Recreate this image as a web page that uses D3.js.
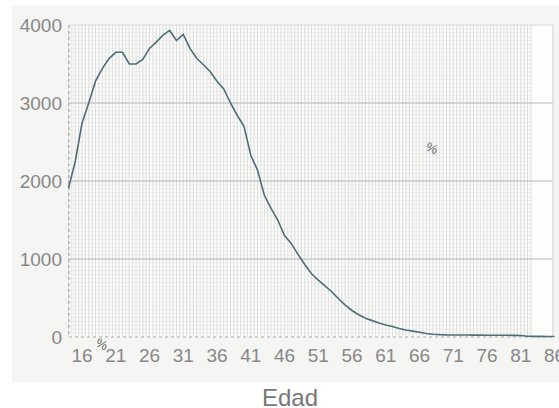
<!DOCTYPE html>
<html>
<head>
<meta charset="utf-8">
<script src="https://cdn.jsdelivr.net/npm/d3@7"></script>
<style>
  body { margin: 0; background: #fff; }
  svg { display: block; font-family: "Liberation Sans", Arial, sans-serif; }
</style>
</head>
<body>
<script>
// ages shown on the x axis and the count for each age
var ages = [14, 15, 16, 17, 18, 19, 20, 21, 22, 23, 24, 25, 26, 27, 28, 29, 30,
            31, 32, 33, 34, 35, 36, 37, 38, 39, 40, 41, 42, 43, 44, 45, 46, 47,
            48, 49, 50, 51, 52, 53, 54, 55, 56, 57, 58, 59, 60, 61, 62, 63, 64,
            65, 66, 67, 68, 69, 70, 71, 72, 73, 74, 75, 76, 77, 78, 79, 80, 81,
            82, 83, 84, 85, 86];
var counts = [1910, 2250, 2740, 3000, 3280, 3440, 3570, 3650, 3650, 3500, 3500, 3560,
              3700, 3780, 3870, 3930, 3800, 3880, 3700, 3570, 3490, 3400, 3280, 3180,
              3000, 2840, 2700, 2330, 2140, 1820, 1650, 1500, 1300, 1200, 1060, 930,
              810, 730, 655, 580, 490, 410, 340, 285, 240, 210, 180, 155, 135, 110,
              90, 75, 60, 45, 35, 30, 27, 26, 25, 25, 24, 24, 23, 23, 22, 22, 21, 20,
              9, 8, 8, 7, 7];
var xTicks = [16, 21, 26, 31, 36, 41, 46, 51, 56, 61, 66, 71, 76, 81, 86];
var yTicks = [0, 1000, 2000, 3000, 4000];

var width = 559, height = 408;
var svg = d3.select("body").append("svg")
            .attr("width", width)
            .attr("height", height);

// grey panel behind the chart
svg.append("rect")
   .attr("x", 12).attr("y", 5)
   .attr("width", width - 12).attr("height", 377)
   .attr("fill", "#f5f5f3");

var pad = {left: 69, right: 553, gridRight: 531, top: 25, bottom: 337};

var xScale = d3.scaleLinear().domain([14, 86]).range([68.5, 554.5]);
var yScale = d3.scaleLinear().domain([0, 4000]).range([pad.bottom, pad.top]);

// plot background
svg.append("rect")
   .attr("x", pad.left).attr("y", pad.top)
   .attr("width", pad.right - pad.left).attr("height", pad.bottom - pad.top)
   .attr("fill", "#fdfdfc");

// fine grid
var grid = svg.append("g").attr("class", "grid");
var vMinor = d3.range(14, 82.6, 0.5);
grid.selectAll(".vminor")
    .data(vMinor).enter()
    .append("line")
    .attr("x1", d => xScale(d)).attr("x2", d => xScale(d))
    .attr("y1", pad.top).attr("y2", pad.bottom)
    .attr("stroke", "#d4d4d4")
    .attr("stroke-width", 0.8);
var hMinor = d3.range(50, 4000, 50);
grid.selectAll(".hminor")
    .data(hMinor).enter()
    .append("line")
    .attr("x1", pad.left).attr("x2", pad.gridRight)
    .attr("y1", d => yScale(d)).attr("y2", d => yScale(d))
    .attr("stroke", "#e2e2e2")
    .attr("stroke-width", 0.6);

// main horizontal lines
grid.selectAll(".hmajor")
    .data([1000, 2000, 3000, 4000]).enter()
    .append("line")
    .attr("x1", pad.left).attr("x2", pad.right)
    .attr("y1", d => yScale(d)).attr("y2", d => yScale(d))
    .attr("stroke", d => d == 4000 ? "#d8d8d8" : "#b8b8b8")
    .attr("stroke-width", 1);

// right border
svg.append("line")
   .attr("x1", pad.right).attr("x2", pad.right)
   .attr("y1", pad.top).attr("y2", pad.bottom)
   .attr("stroke", "#cfcfcf");

// dashed axes
svg.append("line")
   .attr("x1", pad.left).attr("x2", pad.left)
   .attr("y1", pad.top).attr("y2", pad.bottom)
   .attr("stroke", "#999")
   .attr("stroke-dasharray", "3,3");
svg.append("line")
   .attr("x1", pad.left).attr("x2", pad.right)
   .attr("y1", pad.bottom).attr("y2", pad.bottom)
   .attr("stroke", "#aaa")
   .attr("stroke-dasharray", "3,3");

// y labels
svg.selectAll(".ylab")
   .data(yTicks).enter()
   .append("text")
   .attr("x", 62)
   .attr("y", d => yScale(d))
   .attr("dy", "0.35em")
   .attr("text-anchor", "end")
   .attr("fill", "#888")
   .style("font-size", "19px")
   .text(d => d);

// x labels
svg.selectAll(".xlab")
   .data(xTicks).enter()
   .append("text")
   .attr("x", d => xScale(d))
   .attr("y", 362)
   .attr("text-anchor", "middle")
   .attr("fill", "#888")
   .style("font-size", "19px")
   .text(d => d);

// axis title
svg.append("text")
   .attr("x", 290).attr("y", 406)
   .attr("text-anchor", "middle")
   .attr("fill", "#777")
   .style("font-size", "24px")
   .text("Edad");

// the line
var line = d3.line()
             .x((d, i) => xScale(ages[i]))
             .y(d => yScale(d));
svg.append("path")
   .datum(counts)
   .attr("d", line)
   .attr("fill", "none")
   .attr("stroke", "#4f6e76")
   .attr("stroke-width", 1.6);

// stray percent markers
svg.append("text")
   .attr("transform", "translate(432,148) rotate(25)")
   .attr("dy", "0.35em")
   .attr("text-anchor", "middle")
   .attr("fill", "#666")
   .style("font-size", "13px")
   .text("%");
svg.append("text")
   .attr("transform", "translate(102,344) rotate(25)")
   .attr("dy", "0.35em")
   .attr("text-anchor", "middle")
   .attr("fill", "#666")
   .style("font-size", "13px")
   .text("%");
</script>
</body>
</html>
